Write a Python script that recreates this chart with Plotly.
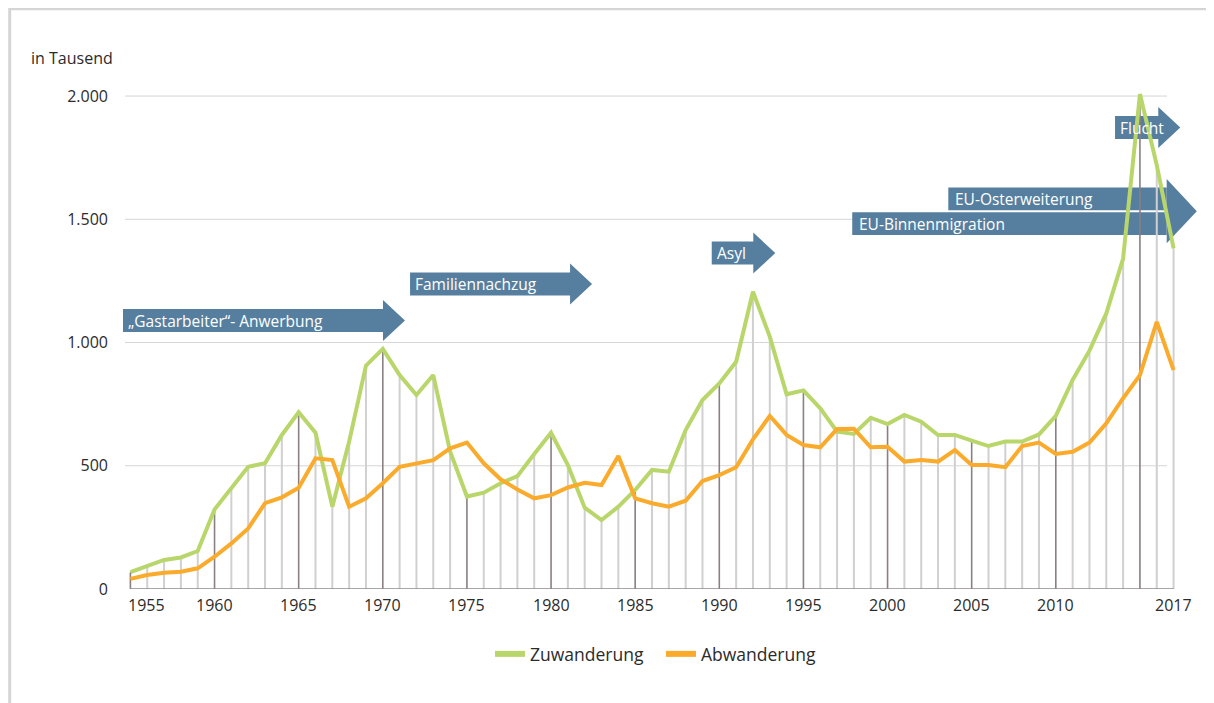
import plotly.graph_objects as go

# Wanderungen über die Grenzen Deutschlands, in Tausend
years = list(range(1955, 2018))

zuwanderung = [68, 93, 118, 128, 154, 323, 412, 496, 510, 625,
               717, 634, 334, 598, 906, 974, 868, 787, 868, 558,
               375, 391, 429, 458, 548, 634, 503, 330, 280, 334,
               402, 483, 476, 645, 767, 834, 922, 1206, 1024, 790,
               806, 733, 638, 629, 695, 669, 706, 679, 625, 625,
               602, 580, 598, 598, 627, 702, 848, 967, 1118, 1341,
               2008, 1720, 1382]

abwanderung = [41, 57, 66, 70, 84, 131, 185, 246, 348, 372,
               411, 530, 523, 334, 368, 429, 496, 510, 523, 571,
               594, 510, 445, 404, 368, 381, 412, 431, 422, 540,
               368, 348, 334, 358, 438, 462, 494, 607, 702, 625,
               584, 575, 649, 650, 575, 577, 517, 523, 517, 564,
               503, 503, 494, 580, 594, 548, 557, 594, 672, 774,
               868, 1084, 888]

ytick_vals = [0, 500, 1000, 1500, 2000]
ytick_text = ["0", "500", "1.000", "1.500", "2.000"]
xtick_years = [1955, 1960, 1965, 1970, 1975, 1980, 1985, 1990, 1995,
               2000, 2005, 2010, 2017]

# label, start year, end of box (year), centre value
phasen = [
    ("„Gastarbeiter“- Anwerbung", 1954.56, 1970.01, 1089),
    ("Familiennachzug", 1971.62, 1981.13, 1237),
    ("Asyl", 1989.55, 1992.02, 1363),
    ("Flucht", 2013.52, 2016.09, 1872),
]
eu_phasen = [
    ("EU-Osterweiterung", 2003.61, 1583),
    ("EU-Binnenmigration", 1997.90, 1482),
]
eu_end, eu_tip, eu_mid = 2016.59, 2018.38, 1533

GREEN = "#b9d66b"
ORANGE = "#fbab2c"
BLUE = "#567f9f"
TXT = "#2b2b2b"
FONT = "Open Sans"

# the page body has an 8px margin, so the figure is 8px smaller
OFF = 8
W, H = 1214 - OFF, 703 - OFF
PL, PB = 122, 589            # plot left / bottom in page pixels
pw, ph = 1060, 542
L, R = PL - OFF, W - (PL - OFF) - pw
B = H - (PB - OFF)
T = H - B - ph
XR = [1954.5, 2017.5]
YR = [0, 2199]
px_year = pw / (XR[1] - XR[0])
px_val = ph / (YR[1] - YR[0])


def xp(year):
    return (year - XR[0]) / (XR[1] - XR[0])


def yp(val):
    return (val - YR[0]) / (YR[1] - YR[0])


def px2x(px):
    return (px - PL) / pw


def px2y(py):
    return (PB - py) / ph


fig = go.Figure()

# year lines from the baseline up to Zuwanderung
light_x, light_y, dark_x, dark_y = [], [], [], []
for yr, v in zip(years, zuwanderung):
    if (yr - 1955) % 5 == 0:
        dark_x += [yr, yr, None]
        dark_y += [0, v, None]
    else:
        light_x += [yr, yr, None]
        light_y += [0, v, None]

fig.add_trace(go.Scatter(x=light_x, y=light_y, mode="lines",
                         line=dict(color="#d0d0d0", width=2),
                         showlegend=False, hoverinfo="skip"))
fig.add_trace(go.Scatter(x=dark_x, y=dark_y, mode="lines",
                         line=dict(color="#8a7f82", width=1.6),
                         showlegend=False, hoverinfo="skip"))
fig.add_trace(go.Scatter(x=[years[0], years[-1]], y=[0, 0], mode="lines",
                         line=dict(color="#8f8889", width=1.5),
                         showlegend=False, hoverinfo="skip"))

fig.add_trace(go.Scatter(x=years, y=zuwanderung, name="Zuwanderung",
                         mode="lines", line=dict(color=GREEN, width=4),
                         showlegend=False))
fig.add_trace(go.Scatter(x=years, y=abwanderung, name="Abwanderung",
                         mode="lines", line=dict(color=ORANGE, width=4),
                         showlegend=False))
# legend entries with thicker swatches
for name, col in [("Zuwanderung", GREEN), ("Abwanderung", ORANGE)]:
    fig.add_trace(go.Scatter(x=[None], y=[None], name=name, mode="lines",
                             line=dict(color=col, width=6)))

shapes = []
# gridlines
for v in ytick_vals[1:]:
    shapes.append(dict(type="line", xref="paper", yref="y",
                       x0=px2x(125), x1=px2x(1167), y0=v, y1=v,
                       line=dict(color="#d6d6d6", width=1), layer="below"))

annotations = []
rect_h = 11.5 / px_val
head_h = 20.5 / px_val
head_l = 22 / px_year

for label, x0, x1, yc in phasen:
    path = "M {a},{b} L {c},{b} L {c},{d} L {e},{f} L {c},{g} L {c},{h} L {a},{h} Z".format(
        a=xp(x0), c=xp(x1), e=xp(x1 + head_l), f=yp(yc),
        b=yp(yc - rect_h), h=yp(yc + rect_h),
        d=yp(yc - head_h), g=yp(yc + head_h))
    shapes.append(dict(type="path", xref="paper", yref="paper", path=path,
                       fillcolor=BLUE, line=dict(width=0), layer="below"))
    annotations.append(dict(x=xp(x0), y=yp(yc), xref="paper", yref="paper",
                            text=label, showarrow=False, xanchor="left",
                            yanchor="middle", xshift=3,
                            font=dict(family=FONT, size=15.5, color="white")))

eu_rect_h = 11.4 / px_val
for label, x0, yc in eu_phasen:
    shapes.append(dict(type="rect", xref="paper", yref="paper",
                       x0=xp(x0), x1=xp(eu_end),
                       y0=yp(yc - eu_rect_h), y1=yp(yc + eu_rect_h),
                       fillcolor=BLUE, line=dict(width=0), layer="below"))
    annotations.append(dict(x=xp(x0), y=yp(yc), xref="paper", yref="paper",
                            text=label, showarrow=False, xanchor="left",
                            yanchor="middle", xshift=5,
                            font=dict(family=FONT, size=15.5, color="white")))
eu_hh = 32.2 / px_val
shapes.append(dict(type="path", xref="paper", yref="paper",
                   path="M {a},{b} L {c},{d} L {a},{e} Z".format(
                       a=xp(eu_end), b=yp(eu_mid + eu_hh), c=xp(eu_tip),
                       d=yp(eu_mid), e=yp(eu_mid - eu_hh)),
                   fillcolor=BLUE, line=dict(width=0), layer="below"))

# outer frame
shapes.append(dict(type="line", xref="paper", yref="paper",
                   x0=px2x(9.5), x1=px2x(1214), y0=px2y(9), y1=px2y(9),
                   line=dict(color="#d5d5d5", width=2.5)))
shapes.append(dict(type="line", xref="paper", yref="paper",
                   x0=px2x(9.7), x1=px2x(9.7), y0=px2y(8), y1=px2y(703),
                   line=dict(color="#d5d5d5", width=3)))

# x tick labels
for yr in xtick_years:
    first = yr == xtick_years[0]
    annotations.append(dict(x=yr, y=0, xref="x", yref="paper", text=str(yr),
                            showarrow=False, yanchor="top", yshift=-3,
                            xanchor="left" if first else "center",
                            xshift=-4 if first else 0,
                            font=dict(family=FONT, size=16, color=TXT)))

annotations.append(dict(x=px2x(29), y=px2y(58), xref="paper", yref="paper",
                        text="in Tausend", showarrow=False, xanchor="left",
                        yanchor="middle",
                        font=dict(family=FONT, size=16, color=TXT)))

fig.update_layout(
    width=W, height=H,
    margin=dict(l=L, r=R, t=T, b=B, autoexpand=False),
    paper_bgcolor="white", plot_bgcolor="white",
    font=dict(family=FONT, size=16, color=TXT),
    xaxis=dict(range=XR, showgrid=False, zeroline=False, showline=False,
               showticklabels=False, ticks=""),
    yaxis=dict(range=YR, tickvals=ytick_vals, ticktext=ytick_text,
               showgrid=False, zeroline=False, showline=False, ticks="",
               ticklabelstandoff=13,
               tickfont=dict(family=FONT, size=16, color=TXT)),
    legend=dict(orientation="h", x=px2x(490), xanchor="left",
                y=px2y(654), yanchor="middle", entrywidth=126,
                font=dict(family=FONT, size=17.5, color=TXT)),
    shapes=shapes,
    annotations=annotations,
    showlegend=True,
)

fig.write_html("out.html")
